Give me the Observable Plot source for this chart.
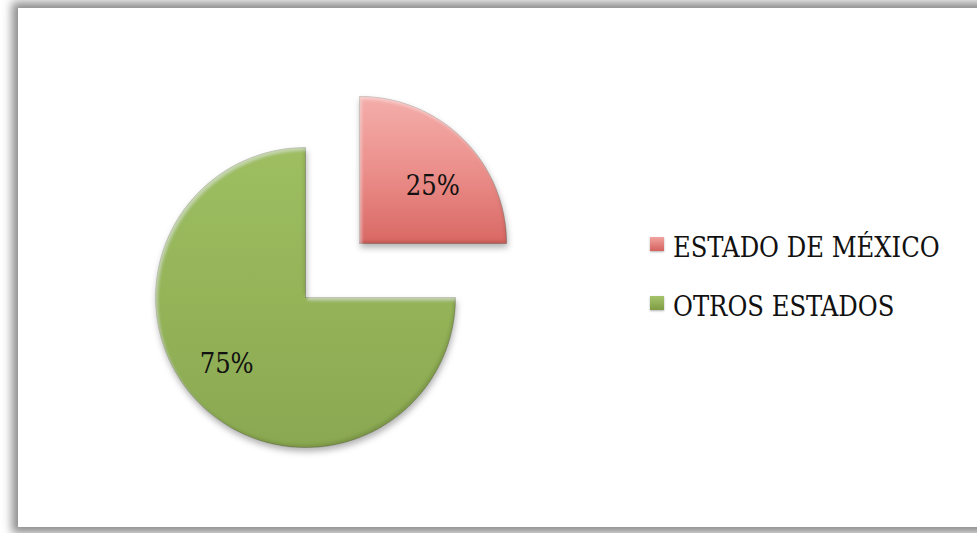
<!DOCTYPE html>
<html><head><meta charset="utf-8">
<script src="https://cdn.jsdelivr.net/npm/d3@7"></script>
<script src="https://cdn.jsdelivr.net/npm/@observablehq/plot@0.6"></script>
<style>
body{margin:0;background:#fff;}
#wrap{position:relative;width:977px;height:533px;overflow:hidden;background:#fff;}
#panel{position:absolute;left:18px;top:8px;width:990px;height:519px;background:#fff;box-shadow:0 0 9px 6px rgba(0,0,0,0.45);}
#chart{position:absolute;left:0;top:0;}
#legend{position:absolute;left:650px;top:232px;font-family:"DejaVu Serif Condensed","DejaVu Serif",serif;font-stretch:condensed;font-size:27px;color:#111;}
.row{display:flex;align-items:center;height:30px;margin-bottom:29px;white-space:nowrap;}
.sw{width:14px;height:14px;margin-right:9px;position:relative;top:-3px;box-shadow:0 1px 2px rgba(0,0,0,0.3);}
</style></head>
<body>
<div id="wrap"><div id="panel"></div><div id="chart"></div><div id="legend"></div></div>
<script>
const categories = ["ESTADO DE MÉXICO", "OTROS ESTADOS"];
const values = [25, 75];
const labels = ["25%", "75%"];
const explode = [0.51, 0];
const gradIds = ["gRed", "gGreen"];
const swatchCss = ["linear-gradient(#f2a3a0,#d4625e)", "linear-gradient(#a5c46a,#7f9c45)"];

const arcs = d3.pie().sort(null)(values);
const N = 90;
const radius = [0.98, 1];
const pts = [];
const lab = [];
arcs.forEach((a, i) => {
  const mid = (a.startAngle + a.endAngle) / 2;
  const ox = explode[i] * Math.sin(mid), oy = explode[i] * Math.cos(mid);
  const R = radius[i];
  pts.push({cat: categories[i], x: ox, y: oy});
  for (let k = 0; k <= N; k++) {
    const t = a.startAngle + (a.endAngle - a.startAngle) * k / N;
    pts.push({cat: categories[i], x: ox + R * Math.sin(t), y: oy + R * Math.cos(t)});
  }
  pts.push({cat: categories[i], x: ox, y: oy});
  const lr = i === 0 ? 0.62 : 0.69;
  const la = i === 0 ? mid + 0.12 : mid + 0.08;
  lab.push({text: labels[i], x: ox + lr * Math.sin(la), y: oy + lr * Math.cos(la)});
});

const cx = 305, cy = 297, rp = 150, W = 977, H = 533;
const svg = Plot.plot({
  width: W, height: H, margin: 0,
  style: {background: "transparent", overflow: "visible"},
  x: {domain: [-cx / rp, (W - cx) / rp], axis: null},
  y: {domain: [-(H - cy) / rp, cy / rp], axis: null},
  color: {domain: categories, range: gradIds.map(g => `url(#${g})`)},
  marks: [
    Plot.line(pts, {x: "x", y: "y", z: "cat", fill: "cat", stroke: "rgba(60,60,40,0.3)", strokeWidth: 1, curve: "linear"}),
    Plot.text(lab, {x: "x", y: "y", text: "text", fontSize: 27, fontFamily: "DejaVu Serif Condensed, DejaVu Serif", fill: "#111"})
  ]
});
const defs = d3.select(svg).insert("defs", ":first-child");
defs.html(`
<linearGradient id="gRed" x1="0" y1="0" x2="0" y2="1">
  <stop offset="0" stop-color="#f4aeab"/><stop offset="0.5" stop-color="#eb8f8b"/><stop offset="1" stop-color="#d96864"/>
</linearGradient>
<linearGradient id="gGreen" x1="0" y1="0" x2="0" y2="1">
  <stop offset="0" stop-color="#9ebe62"/><stop offset="0.5" stop-color="#95b459"/><stop offset="1" stop-color="#8aa851"/>
</linearGradient>
<filter id="sh" x="-20%" y="-20%" width="140%" height="140%">
  <feGaussianBlur in="SourceAlpha" stdDeviation="3" result="sb"/>
  <feOffset in="sb" dx="1" dy="4" result="so"/>
  <feFlood flood-color="#000" flood-opacity="0.3"/>
  <feComposite in2="so" operator="in" result="drop"/>
  <feGaussianBlur in="SourceAlpha" stdDeviation="1.8" result="b"/>
  <feOffset in="b" dx="-2" dy="-3" result="o1"/>
  <feComposite in="SourceAlpha" in2="o1" operator="out" result="r1"/>
  <feFlood flood-color="#000" flood-opacity="0.22"/>
  <feComposite in2="r1" operator="in" result="dark"/>
  <feOffset in="b" dx="2" dy="3" result="o2"/>
  <feComposite in="SourceAlpha" in2="o2" operator="out" result="r2"/>
  <feFlood flood-color="#fff" flood-opacity="0.35"/>
  <feComposite in2="r2" operator="in" result="light"/>
  <feMerge><feMergeNode in="drop"/><feMergeNode in="SourceGraphic"/><feMergeNode in="dark"/><feMergeNode in="light"/></feMerge>
</filter>`);
d3.select(svg).select("g[aria-label=line]").attr("filter", "url(#sh)");
d3.select(svg).select("g[aria-label=text]").style("font-stretch", "condensed");
document.getElementById("chart").appendChild(svg);

const leg = d3.select("#legend");
categories.forEach((c, i) => {
  const r = leg.append("div").attr("class", "row");
  r.append("div").attr("class", "sw").style("background", swatchCss[i]);
  r.append("span").text(c);
});
</script>
</body></html>
